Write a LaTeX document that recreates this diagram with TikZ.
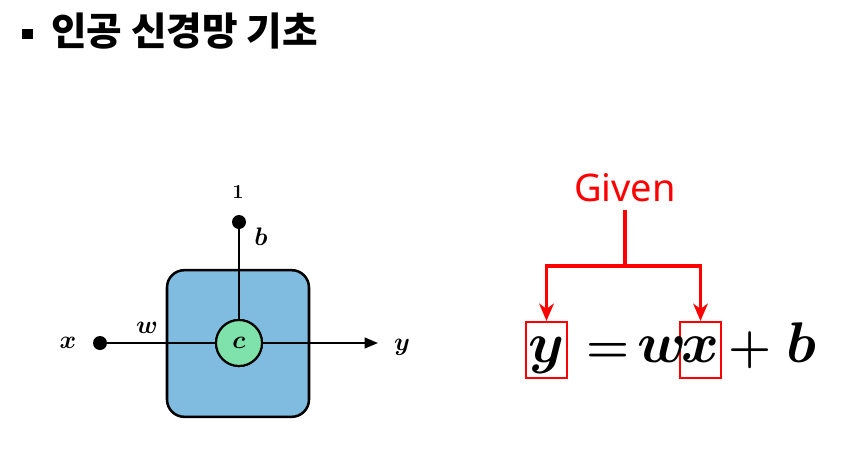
\RequirePackage{fix-cm}
\documentclass[tikz,border=0pt]{standalone}
\usepackage{fontspec}
\newfontfamily\krfont{Noto Sans CJK KR}
\newfontfamily\givenfont{Noto Sans}
\usetikzlibrary{arrows.meta}
\definecolor{boxblue}{RGB}{128,188,223}
\definecolor{cgreen}{RGB}{126,226,170}
\definecolor{gred}{RGB}{255,0,0}
\tikzset{
  bulletsq/.style={fill=black, inner sep=0pt, minimum size=8pt},
  neuronbox/.style={draw=black, line width=1.9pt, fill=boxblue, rounded corners=13pt, minimum width=106.5pt, minimum height=110pt, inner sep=0pt},
  cnode/.style={circle, draw=black, line width=1.6pt, fill=cgreen, minimum size=34.5pt, inner sep=0pt, font=\fontsize{19}{21}\selectfont\boldmath},
  dotnode/.style={circle, fill=black, minimum size=10.5pt, inner sep=0pt},
  wire/.style={line width=1.5pt, draw=black},
  lbl/.style={anchor=base, inner sep=0pt, font=\fontsize{19}{21}\selectfont\boldmath},
  redline/.style={draw=gred, line width=2.3pt},
  redbox/.style={draw=gred, line width=1.6pt, minimum width=30.75pt, minimum height=42pt, inner sep=0pt},
  eq/.style={anchor=base, inner sep=0pt, font=\fontsize{43}{46}\selectfont\boldmath},
  eqop/.style={anchor=base, inner sep=0pt, font=\fontsize{37}{40}\selectfont\boldmath},
}
\begin{document}
\begin{tikzpicture}[x=0.75pt,y=-0.75pt]
\useasboundingbox (0,0) rectangle (847,450);
% title
\node[bulletsq] (bul) at (27.5,34) {};
\node[anchor=west, inner sep=0pt, font=\krfont\bfseries\fontsize{29}{32}\selectfont] (title) at (51,31) {인공 신경망 기초};
% neuron diagram
\node[neuronbox] (box) at (238,343.5) {};
\node[dotnode] (top) at (239,222) {};
\node[dotnode] (left) at (100,343) {};
\coordinate (yend) at (378,343);
\node[cnode] (c) at (239,343) {};
\draw[wire] (top.center) -- (c.center);
\draw[wire] (left.center) -- (c.center);
\draw[wire, -{Triangle[length=10pt, width=8pt]}] (c.center) -- (yend);
\node[cnode] (c2) at (239,343) {$c$};
\node[anchor=base, inner sep=0pt, font=\bfseries\fontsize{15}{17}\selectfont] (one) at (238,198) {1};
\node[lbl] (blbl) at (261,245) {$b$};
\node[lbl] (wlbl) at (147,333) {$w$};
\node[lbl] (xlbl) at (68,348) {$x$};
\node[lbl] (ylbl) at (402,350) {$y$};
% equation
\node[red, inner sep=0pt, font=\givenfont\fontsize{28.5}{30}\selectfont] (given) at (625,188) {Given};
\node[redbox] (ybox) at (546.5,350) {};
\node[redbox] (xbox) at (700.5,350) {};
\coordinate (gtop) at (625,210);
\coordinate (mid) at (625,266);
\draw[redline] (gtop) -- (mid);
\draw[redline, -{Stealth[length=13pt, width=11pt, inset=4pt]}] (mid) -| (ybox.north);
\draw[redline, -{Stealth[length=13pt, width=11pt, inset=4pt]}] (mid) -| (xbox.north);
\node[eq] (ey) at (546.5,362) {$y$};
\node[eqop] (eeq) at (608,362) {$=$};
\node[eq] (ew) at (662,362) {$w$};
\node[eq] (ex) at (700.5,362) {$x$};
\node[eqop] (eplus) at (750,362) {$+$};
\node[eq] (eb) at (801,362) {$b$};
\end{tikzpicture}
\end{document}
